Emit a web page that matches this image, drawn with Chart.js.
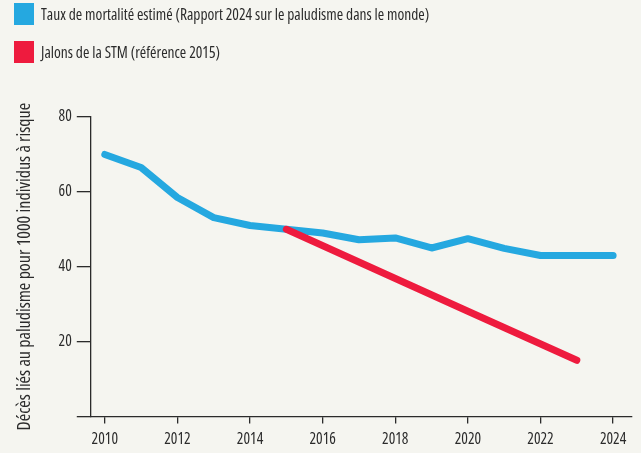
<!DOCTYPE html>
<html>
<head>
<meta charset="utf-8">
<script src="https://cdn.jsdelivr.net/npm/chart.js@4/dist/chart.umd.min.js"></script>
<style>
  html, body { margin: 0; padding: 0; background: #f5f5f0; }
  #wrap { position: relative; width: 641px; height: 453px; overflow: hidden; }
  #c { position: absolute; left: 0; top: 0; }
  #legend { position: absolute; left: 0; top: 0; font-family: 'Open Sans', sans-serif; font-stretch: 75%; font-size: 15.5px; color: #2b2b2b; }
  .li { position: absolute; left: 14px; height: 22px; white-space: nowrap; }
  .li .box { position: absolute; left: 0; top: 0; width: 20px; height: 22px; }
  .li .txt { position: absolute; left: 27px; top: 0; line-height: 22px; }
</style>
</head>
<body>
<div id="wrap">
  <canvas id="c" width="641" height="453"></canvas>
  <div id="legend"></div>
</div>
<script>
// ---- data ----
const years = [2010, 2011, 2012, 2013, 2014, 2015, 2016, 2017, 2018, 2019, 2020, 2021, 2022, 2023, 2024];
const estimatedRate = [70.0, 66.5, 58.5, 53.1, 51.0, 50.0, 49.0, 47.2, 47.7, 45.0, 47.5, 44.9, 43.0, 43.0, 43.0];
const gtsYears = [2015, 2020, 2023];
const gtsMilestones = [50.0, 28.1, 15.0];
const xTickYears = [2010, 2012, 2014, 2016, 2018, 2020, 2022, 2024];
const yTickValues = [0, 20, 40, 60, 80];
const seriesLabels = ['Taux de mortalité estimé (Rapport 2024 sur le paludisme dans le monde)', 'Jalons de la STM (référence 2015)'];
const yTitle = 'Décès liés au paludisme pour 1000 individus à risque';

const BLUE = '#25a8e0';
const RED = '#ee1b3e';
const INK = '#2b2b2b';
// 'condensed' goes in the weight slot so the canvas font shorthand gets a font-stretch keyword
const tickFont = { family: "'Open Sans', sans-serif", weight: 'condensed', size: 15.5 };

const htmlLegend = {
  id: 'htmlLegend',
  afterUpdate(chart) {
    const el = document.getElementById('legend');
    el.innerHTML = '';
    chart.data.datasets.forEach((ds, i) => {
      const item = document.createElement('div');
      item.className = 'li';
      item.style.top = (3 + i * 38) + 'px';
      const box = document.createElement('span');
      box.className = 'box';
      box.style.background = ds.borderColor;
      const txt = document.createElement('span');
      txt.className = 'txt';
      txt.textContent = ds.label;
      item.appendChild(box); item.appendChild(txt);
      el.appendChild(item);
    });
  }
};

new Chart(document.getElementById('c'), {
  type: 'line',
  data: {
    datasets: [
      {
        label: seriesLabels[0],
        data: years.map((y, i) => ({ x: y, y: estimatedRate[i] })),
        borderColor: BLUE, backgroundColor: BLUE,
        borderWidth: 7, pointRadius: 0, tension: 0, order: 2,
        borderCapStyle: 'round', borderJoinStyle: 'round'
      },
      {
        label: seriesLabels[1],
        data: gtsYears.map((y, i) => ({ x: y, y: gtsMilestones[i] })),
        borderColor: RED, backgroundColor: RED,
        borderWidth: 7, pointRadius: 0, tension: 0, order: 1,
        borderCapStyle: 'round', borderJoinStyle: 'round'
      }
    ]
  },
  options: {
    responsive: false,
    animation: false,
    events: [],
    layout: { padding: { left: 14, top: 117, right: 9, bottom: -3 } },
    plugins: { legend: { display: false }, tooltip: { enabled: false } },
    scales: {
      x: {
        type: 'linear',
        min: 2009.614, max: 2024.52,
        afterBuildTicks(scale) { scale.ticks = xTickYears.map(v => ({ value: v })); },
        grid: { drawOnChartArea: false, drawTicks: true, tickLength: 7, color: INK, lineWidth: 1.3 },
        border: { display: true, color: INK, width: 1.3 },
        ticks: { color: INK, font: tickFont, padding: 7, maxRotation: 0, autoSkip: false, callback: v => String(v) }
      },
      y: {
        min: 0, max: 80,
        afterBuildTicks(scale) { scale.ticks = yTickValues.map(v => ({ value: v })); },
        grid: { drawOnChartArea: false, drawTicks: true, tickLength: 14, color: INK, lineWidth: 1.3 },
        border: { display: true, color: INK, width: 1.3 },
        ticks: { color: INK, font: tickFont, padding: 5, callback: v => (v === 0 ? '' : String(v)) },
        title: {
          display: true, text: yTitle, color: INK,
          font: { family: "'Open Sans', sans-serif", weight: 'condensed', size: 18 },
          padding: { top: 0, bottom: 18 }
        }
      }
    }
  },
  plugins: [htmlLegend]
});
</script>
</body>
</html>
